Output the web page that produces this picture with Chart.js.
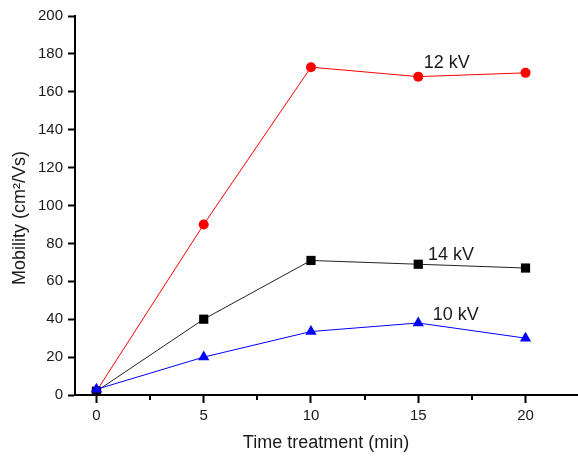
<!DOCTYPE html>
<html>
<head>
<meta charset="utf-8">
<script src="https://cdn.jsdelivr.net/npm/chart.js@4"></script>
<style>
  html, body { margin: 0; padding: 0; background: #fff; }
  #wrap { width: 578px; height: 457px; }
</style>
</head>
<body>
<div id="wrap"><canvas id="chart" width="578" height="457"></canvas></div>
<script>
// data
const times = [0, 5, 10, 15, 20];
const kv12 = [2, 90, 173, 168, 170];
const kv14 = [2, 40, 71, 69, 67];
const kv10 = [3, 20, 33.5, 38, 30];

const xMajorTicks = [0, 5, 10, 15, 20];
const xMinorTicks = [2.5, 7.5, 12.5, 17.5];
const seriesNames = ['12 kV', '14 kV', '10 kV'];

const FONT = "'Liberation Sans', Arial, sans-serif";

function pts(ys) {
    return times.map((t, i) => ({ x: t, y: ys[i] }));
}

// text labels next to curves, placed in data coordinates
const curveLabels = [
    { text: seriesNames[0], x: 15.26, y: 175 },
    { text: seriesNames[1], x: 15.45, y: 74 },
    { text: seriesNames[2], x: 15.68, y: 42 }
];

const extras = {
    id: 'extras',
    afterDraw(chart) {
        const ctx = chart.ctx;
        const xs = chart.scales.x;
        const ys = chart.scales.y;
        ctx.save();
        // minor ticks on x axis
        ctx.strokeStyle = '#000';
        ctx.lineWidth = 2;
        xMinorTicks.forEach(v => {
            const px = Math.round(xs.getPixelForValue(v));
            ctx.beginPath();
            ctx.moveTo(px, ys.bottom);
            ctx.lineTo(px, ys.bottom + 5);
            ctx.stroke();
        });
        // curve labels
        ctx.fillStyle = '#1a1a1a';
        ctx.font = '18px ' + FONT;
        ctx.textAlign = 'left';
        ctx.textBaseline = 'middle';
        curveLabels.forEach(l => {
            ctx.fillText(l.text, xs.getPixelForValue(l.x), ys.getPixelForValue(l.y));
        });
        // y axis title
        ctx.translate(20, 218);
        ctx.rotate(-Math.PI / 2);
        ctx.textAlign = 'center';
        ctx.font = '18px ' + FONT;
        ctx.fillText('Mobility (cm\u00B2/Vs)', 0, 0);
        ctx.restore();
    }
};

new Chart(document.getElementById('chart').getContext('2d'), {
    type: 'line',
    data: {
        datasets: [
            {
                label: seriesNames[2],
                data: pts(kv10),
                borderColor: '#0000ff',
                backgroundColor: '#0000ff',
                borderWidth: 1,
                pointStyle: 'triangle',
                pointRadius: 6.5,
                pointBorderWidth: 0
            },
            {
                label: seriesNames[1],
                data: pts(kv14),
                borderColor: '#222',
                backgroundColor: '#000',
                borderWidth: 1,
                pointStyle: 'rect',
                pointRadius: 6.5,
                pointBorderWidth: 0
            },
            {
                label: seriesNames[0],
                data: pts(kv12),
                borderColor: '#ff0000',
                backgroundColor: '#ff0000',
                borderWidth: 1,
                pointStyle: 'circle',
                pointRadius: 5,
                pointBorderWidth: 0
            }
        ]
    },
    options: {
        responsive: false,
        animation: false,
        clip: false,
        layout: { autoPadding: false, padding: { top: 16, right: 1, left: 0, bottom: 0 } },
        plugins: {
            legend: { display: false },
            tooltip: { enabled: false }
        },
        scales: {
            x: {
                type: 'linear',
                min: -1,
                max: 22.4,
                afterBuildTicks: s => { s.ticks = xMajorTicks.map(v => ({ value: v })); },
                afterFit: s => { s.height = 62; },
                border: { color: '#000', width: 2 },
                grid: { drawOnChartArea: false, drawTicks: true, tickLength: 8, tickWidth: 2, tickColor: '#000' },
                ticks: { color: '#1a1a1a', font: { family: FONT, size: 15 }, padding: 4, maxRotation: 0 },
                title: {
                    display: true,
                    text: 'Time treatment (min)',
                    color: '#1a1a1a',
                    font: { family: FONT, size: 18 },
                    padding: { top: 0, bottom: 3 }
                }
            },
            y: {
                min: 0,
                max: 200,
                afterFit: s => { s.width = 75; },
                border: { color: '#000', width: 2 },
                grid: { drawOnChartArea: false, drawTicks: true, tickLength: 7, tickWidth: 2, tickColor: '#000' },
                ticks: { stepSize: 20, color: '#1a1a1a', font: { family: FONT, size: 15 }, padding: 5 }
            }
        }
    },
    plugins: [extras]
});
</script>
</body>
</html>
